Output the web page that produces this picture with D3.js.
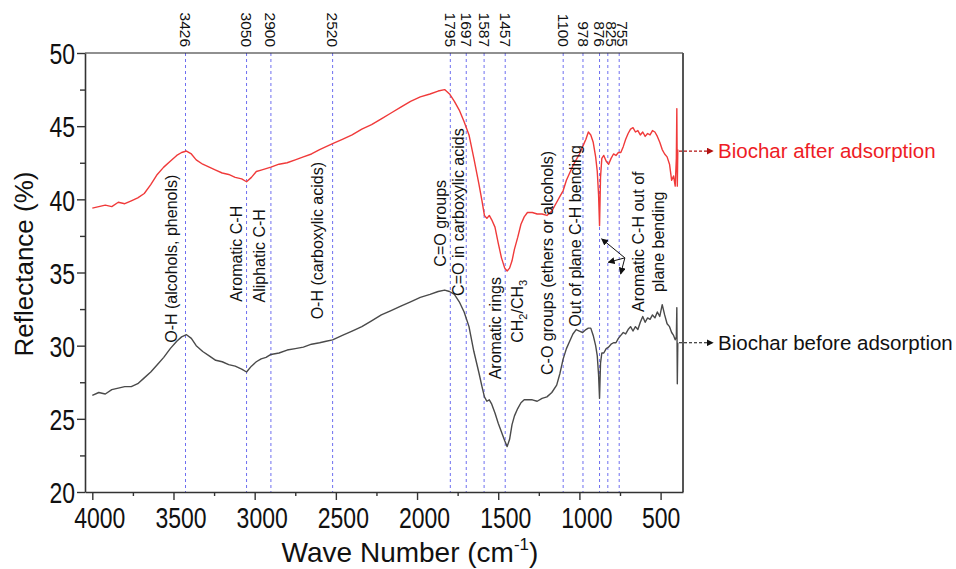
<!DOCTYPE html>
<html>
<head>
<meta charset="utf-8">
<script src="https://cdn.jsdelivr.net/npm/d3@7/dist/d3.min.js"></script>
<style>
  body { margin: 0; background: #fff; }
  svg text { font-family: "Liberation Sans", Arial, sans-serif; fill: #111; }
</style>
</head>
<body>
<div id="chart"></div>
<script>
// wavenumbers (cm-1) shared by both spectra
const wavenumbers = [
  4000, 3960, 3920, 3880, 3840, 3800, 3760, 3720, 3680, 3640,
  3600, 3560, 3520, 3480, 3450, 3420, 3390, 3360, 3320, 3280,
  3240, 3200, 3160, 3120, 3080, 3050, 3020, 2990, 2960, 2930,
  2900, 2850, 2800, 2750, 2700, 2650, 2600, 2560, 2520, 2460,
  2400, 2340, 2280, 2220, 2160, 2100, 2040, 1980, 1920, 1870,
  1830, 1800, 1770, 1740, 1710, 1680, 1650, 1620, 1600, 1585,
  1570, 1555, 1540, 1520, 1500, 1480, 1460, 1445, 1430, 1415,
  1400, 1380, 1360, 1340, 1320, 1290, 1260, 1230, 1200, 1170,
  1140, 1120, 1100, 1080, 1060, 1040, 1020, 1000, 980, 960,
  945, 930, 915, 900, 890, 882, 876, 870, 862, 850,
  835, 820, 805, 790, 775, 760, 745, 730, 715, 700,
  685, 670, 655, 640, 625, 610, 595, 580, 565, 550,
  535, 520, 505, 490, 475, 460, 445, 432, 420, 410,
  403, 400, 397, 394
];

// reflectance (%) biochar after adsorption (red)
const afterAdsorption = [
  39.4, 39.5, 39.6, 39.5, 39.8, 39.7, 39.9, 40.1, 40.4, 41.0,
  41.7, 42.2, 42.6, 43.0, 43.2, 43.3, 43.1, 42.7, 42.4, 42.2,
  42.0, 41.8, 41.7, 41.5, 41.4, 41.2, 41.5, 41.9, 42.0, 42.1,
  42.2, 42.4, 42.5, 42.7, 42.9, 43.1, 43.4, 43.6, 43.8, 44.1,
  44.4, 44.8, 45.1, 45.5, 45.9, 46.3, 46.7, 47.0, 47.2, 47.4,
  47.5, 47.2, 46.7, 46.1, 45.3, 44.4, 42.8, 41.1, 39.9, 38.9,
  38.7, 38.9, 38.6, 38.1, 37.0, 36.0, 35.3, 35.1, 35.3, 35.8,
  36.6, 37.4, 38.3, 38.8, 39.1, 39.1, 39.0, 39.0, 38.9, 39.2,
  39.8, 40.2, 40.6, 41.3, 41.8, 42.3, 42.7, 43.1, 43.6, 44.1,
  44.6, 44.4, 43.9, 42.9, 41.9, 40.3, 38.2, 41.5, 42.8, 43.0,
  42.6, 42.4, 42.8, 43.1, 43.0, 43.2, 43.2, 43.6, 44.1, 44.5,
  44.8, 44.9, 44.6, 44.7, 44.4, 44.6, 44.3, 44.5, 44.4, 44.7,
  44.6, 44.3, 43.9, 43.4, 43.1, 42.9, 42.4, 41.3, 41.6, 40.9,
  42.8, 46.2, 40.9, 43.4
];

// reflectance (%) biochar before adsorption (grey)
const beforeAdsorption = [
  26.6, 26.8, 26.7, 27.0, 27.1, 27.2, 27.2, 27.4, 27.8, 28.2,
  28.7, 29.2, 29.8, 30.3, 30.6, 30.75, 30.5, 30.0, 29.6, 29.3,
  29.0, 28.9, 28.7, 28.6, 28.4, 28.2, 28.6, 28.9, 29.1, 29.2,
  29.4, 29.5, 29.7, 29.8, 29.9, 30.1, 30.2, 30.3, 30.4, 30.7,
  31.0, 31.3, 31.7, 32.1, 32.4, 32.7, 33.0, 33.3, 33.5, 33.7,
  33.8, 33.7, 33.5, 33.0, 32.3, 31.3, 29.6, 28.2, 27.2, 26.5,
  26.2, 26.3, 26.0, 25.4, 24.7, 24.1, 23.5, 23.1, 23.6, 24.6,
  25.2, 25.7, 26.1, 26.3, 26.3, 26.3, 26.2, 26.4, 26.5, 26.8,
  27.3, 28.1, 29.1, 29.8, 30.3, 30.8, 31.1, 31.0, 30.9, 31.1,
  31.2, 31.2, 30.7, 30.0, 29.3, 28.0, 26.4, 28.8, 29.5, 29.5,
  29.8, 29.9, 30.1, 30.2, 30.2, 30.5, 30.7, 30.9, 30.8, 31.1,
  31.3, 31.0, 31.3, 31.1, 31.6, 32.0, 31.6, 31.9, 31.8, 32.1,
  31.9, 32.3, 32.0, 32.8, 32.1, 31.5, 31.3, 30.9, 30.7, 30.4,
  30.6, 32.6, 27.4, 30.2
];

// marked band positions
const peakLines = [3426, 3050, 2900, 2520, 1795, 1697, 1587, 1457, 1100, 978, 876, 825, 755];

const xTicks = [4000, 3500, 3000, 2500, 2000, 1500, 1000, 500];
const xMinorTicks = [3750, 3250, 2750, 2250, 1750, 1250, 750];
const yTicks = [20, 25, 30, 35, 40, 45, 50];
const yMinorTicks = [22.5, 27.5, 32.5, 37.5, 42.5, 47.5];

// band assignments: text, wavenumber and reflectance where the label sits
const bandText = ["O-H (alcohols, phenols)", "Aromatic C-H", "Aliphatic C-H", "O-H (carboxylic acids)",
  "C=O groups", "C=O in carboxylic acids", "Aromatic rings", "CH2/CH3",
  "C-O groups (ethers or alcohols)", "Out of plane C-H bending",
  "Aromatic C-H out of", "plane bending"];
const bandWave = [3511, 3110, 2969, 2611, 1859, 1748, 1520, 1385, 1200, 1027, 639, 516];
const bandLevel = [30.2, 33.0, 32.95, 31.8, 35.4, 33.4, 27.7, 30.2, 28.0, 31.3, 37.1, 37.1];

// arrows for aromatic C-H out of plane bending: from one point to three bands
const arrowFrom = {wave: 720, level: 36.0};
const arrowTo = [{wave: 863, level: 37.3}, {wave: 822, level: 35.7}, {wave: 746, level: 34.9}];

const seriesNames = ["Biochar after adsorption", "Biochar before adsorption"];
const seriesLevels = [43.3, 30.2];

const margin = {top: 53, right: 273, bottom: 77, left: 85},
  width = 956 - margin.left - margin.right,
  height = 569 - margin.top - margin.bottom;

const svg = d3.select("#chart")
  .append("svg")
  .attr("width", 956)
  .attr("height", 569);

const defs = svg.append("defs");
function arrowMarker(id, color) {
  defs.append("marker")
    .attr("id", id)
    .attr("viewBox", "0 0 10 10")
    .attr("refX", 9).attr("refY", 5)
    .attr("markerWidth", 7).attr("markerHeight", 7)
    .attr("markerUnits", "userSpaceOnUse")
    .attr("orient", "auto")
    .append("path")
    .attr("d", "M0,0 L10,5 L0,10 z")
    .attr("fill", color);
}
arrowMarker("arrow-black", "#111");
arrowMarker("arrow-red", "#b31212");

const g = svg.append("g")
  .attr("transform", "translate(" + margin.left + "," + margin.top + ")");

const x = d3.scaleLinear().domain([4045, 362]).range([0, width]);
const y = d3.scaleLinear().domain([20, 50]).range([height, 0]);

// dashed band lines
g.append("g").selectAll("line")
  .data(peakLines)
  .enter().append("line")
  .attr("x1", d => x(d)).attr("x2", d => x(d))
  .attr("y1", 0).attr("y2", height)
  .attr("stroke", "#6e6ff0")
  .attr("stroke-width", 1)
  .attr("stroke-dasharray", "3,3");

// wavenumber labels above the frame, nudged right where they would collide
const labelX = [];
peakLines.forEach((d, i) => {
  let px = x(d);
  if (i > 0 && px - labelX[i - 1] < 11.5) px = labelX[i - 1] + 11.5;
  labelX.push(px);
});
g.append("g").selectAll("text")
  .data(peakLines)
  .enter().append("text")
  .attr("transform", (d, i) => `translate(${labelX[i]},-6) rotate(90)`)
  .attr("dy", "0.35em")
  .attr("text-anchor", "end")
  .attr("font-size", "15.5px")
  .text(d => d);

// spectra
const lineGen = vals => d3.line()
  .x((d, i) => x(wavenumbers[i]))
  .y((d, i) => y(vals[i]))(vals);

g.append("path")
  .attr("d", lineGen(beforeAdsorption))
  .attr("fill", "none")
  .attr("stroke", "#4a4a4a")
  .attr("stroke-width", 1.4)
  .attr("stroke-linejoin", "round");

g.append("path")
  .attr("d", lineGen(afterAdsorption))
  .attr("fill", "none")
  .attr("stroke", "#f03a3a")
  .attr("stroke-width", 1.4)
  .attr("stroke-linejoin", "round");

// frame: top and right
g.append("line").attr("x1", 0).attr("x2", width).attr("y1", 0).attr("y2", 0)
  .attr("stroke", "#222").attr("stroke-width", 1.2);
g.append("line").attr("x1", width).attr("x2", width).attr("y1", 0).attr("y2", height)
  .attr("stroke", "#555").attr("stroke-width", 2);

// x axis
const xAxis = g.append("g")
  .attr("transform", `translate(0,${height})`)
  .call(d3.axisBottom(x).tickValues(xTicks).tickSize(8).tickSizeOuter(0).tickFormat(d3.format("d")));
xAxis.append("g")
  .call(d3.axisBottom(x).tickValues(xMinorTicks).tickSize(4).tickFormat(""))
  .select(".domain").remove();
xAxis.selectAll(".domain").attr("stroke", "#333").attr("stroke-width", 1.6);
xAxis.selectAll(".tick line").attr("stroke", "#333").attr("stroke-width", 1.4);
// tall, slightly narrow tick digits as in the original figure
xAxis.selectAll(".tick text")
  .attr("y", 0).attr("dy", 0)
  .attr("transform", d => `translate(${d >= 1000 ? 7 : 0},36) scale(1,1.3)`)
  .attr("font-size", "23px")
  .attr("fill", "#111");

// y axis
const yAxis = g.append("g")
  .call(d3.axisLeft(y).tickValues(yTicks).tickSize(8).tickSizeOuter(0));
yAxis.append("g")
  .call(d3.axisLeft(y).tickValues(yMinorTicks).tickSize(5).tickFormat(""))
  .select(".domain").remove();
yAxis.selectAll(".domain").attr("stroke", "#333").attr("stroke-width", 1.6);
yAxis.selectAll(".tick line").attr("stroke", "#333").attr("stroke-width", 1.4);
yAxis.selectAll(".tick text")
  .attr("x", 0)
  .attr("dy", "0.36em")
  .attr("transform", "translate(-10,0) scale(1,1.3)")
  .attr("font-size", "23px")
  .attr("fill", "#111");

// band assignment labels
const bands = g.append("g");
bandText.forEach((t, i) => {
  const centred = i >= 10;
  const txt = bands.append("text")
    .attr("transform", `translate(${x(bandWave[i])},${y(bandLevel[i])}) rotate(-90)`)
    .attr("dy", "0.35em")
    .attr("text-anchor", centred ? "middle" : "start")
    .attr("font-size", "16px");
  if (t === "CH2/CH3") {
    txt.append("tspan").text("CH");
    txt.append("tspan").text("2").attr("font-size", "11px").attr("dy", "4");
    txt.append("tspan").text("/CH").attr("dy", "-4");
    txt.append("tspan").text("3").attr("font-size", "11px").attr("dy", "4");
  } else {
    txt.text(t);
  }
});

// aromatic C-H arrows
g.append("g").selectAll("line")
  .data(arrowTo)
  .enter().append("line")
  .attr("x1", x(arrowFrom.wave)).attr("y1", y(arrowFrom.level))
  .attr("x2", d => x(d.wave)).attr("y2", d => y(d.level))
  .attr("stroke", "#111")
  .attr("stroke-width", 1)
  .attr("marker-end", "url(#arrow-black)");

// series labels with dashed arrows
const seriesColors = ["#b31212", "#111"];
const textColors = ["#ee1c25", "#111"];
seriesNames.forEach((name, i) => {
  const yy = y(seriesLevels[i]);
  g.append("line")
    .attr("x1", width - 4).attr("x2", width + 30)
    .attr("y1", yy).attr("y2", yy)
    .attr("stroke", seriesColors[i])
    .attr("stroke-width", 1.2)
    .attr("stroke-dasharray", "3,2")
    .attr("marker-end", i === 0 ? "url(#arrow-red)" : "url(#arrow-black)");
  g.append("text")
    .attr("x", width + 35)
    .attr("y", yy)
    .attr("dy", "0.36em")
    .attr("font-size", "20.5px")
    .style("fill", textColors[i])
    .text(name);
});

// axis titles
const xTitle = svg.append("text")
  .attr("x", margin.left + 325)
  .attr("y", 562)
  .attr("text-anchor", "middle")
  .attr("font-size", "28px");
xTitle.append("tspan").text("Wave Number (cm");
xTitle.append("tspan").text("-1").attr("font-size", "17px").attr("dy", "-12");
xTitle.append("tspan").text(")").attr("dy", "12");

svg.append("text")
  .attr("transform", "rotate(-90)")
  .attr("x", -264)
  .attr("y", 33)
  .attr("text-anchor", "middle")
  .attr("font-size", "26px")
  .text("Reflectance (%)");
</script>
</body>
</html>
